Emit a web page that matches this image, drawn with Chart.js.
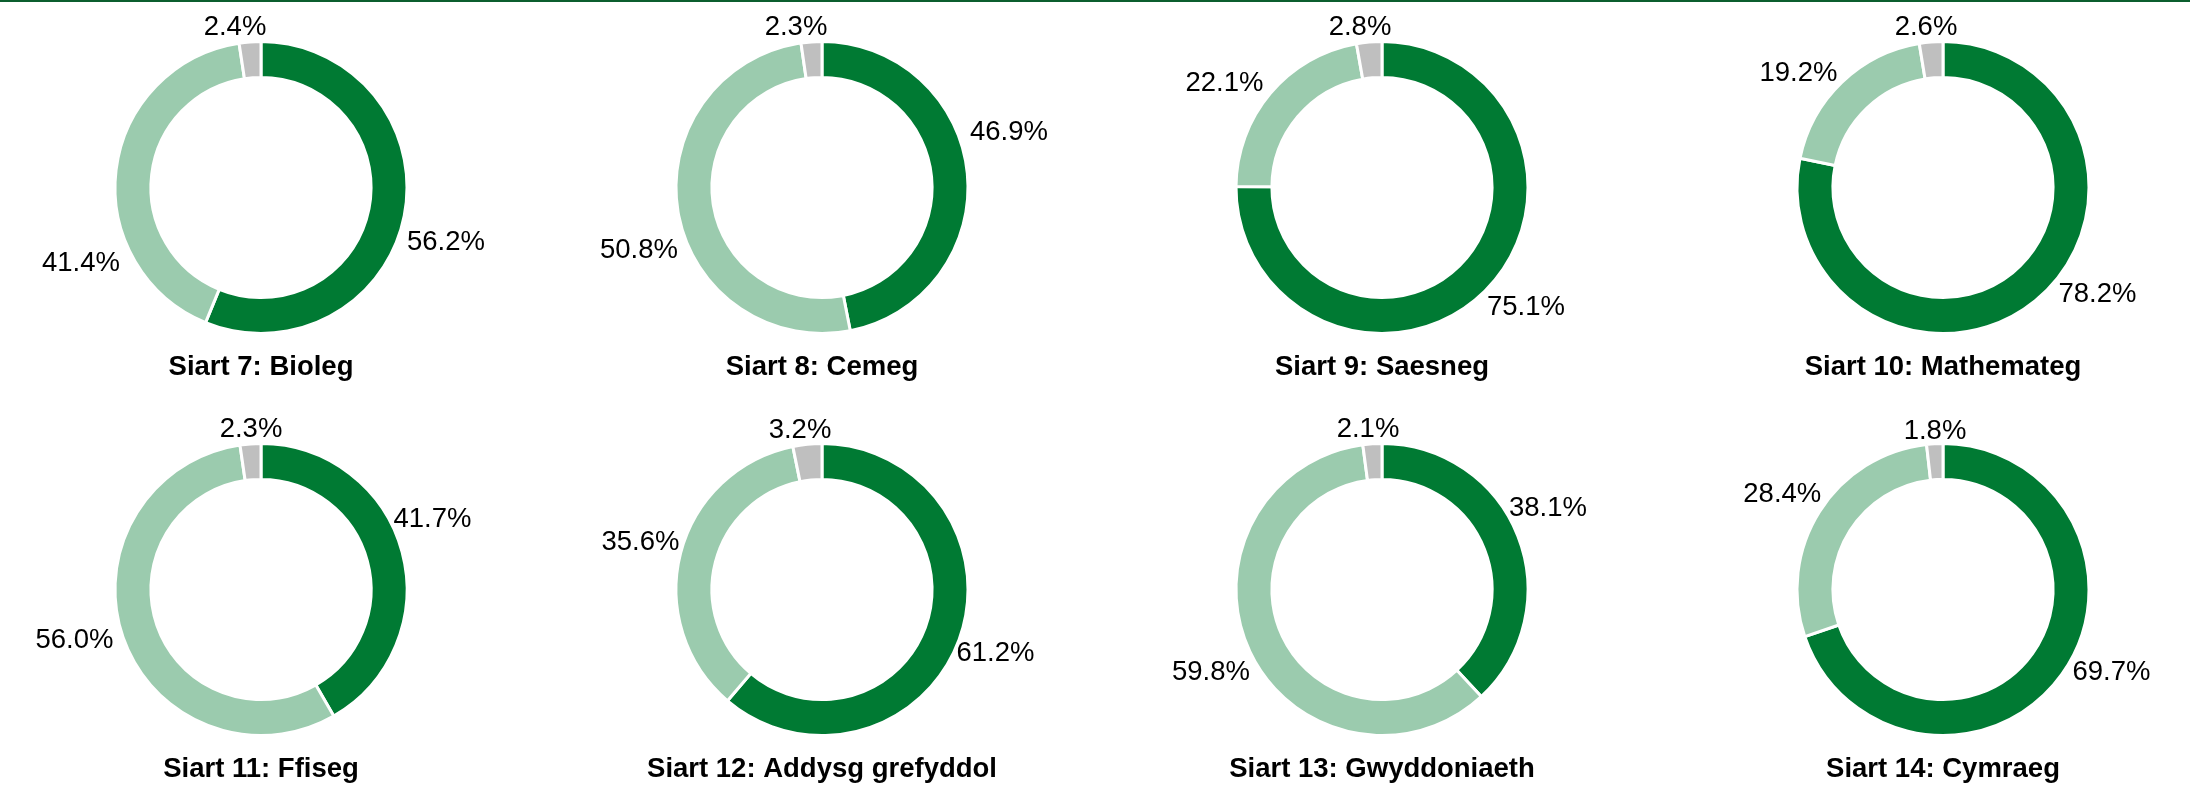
<!DOCTYPE html>
<html>
<head>
<meta charset="utf-8">
<script src="https://cdn.jsdelivr.net/npm/chart.js@4.4.1/dist/chart.umd.min.js"></script>
<style>
  html, body { margin: 0; padding: 0; background: #ffffff; }
  body { width: 2190px; height: 795px; position: relative; overflow: hidden; }
  #topline { position: absolute; left: 0; top: 0; width: 2190px; height: 2px; background: #0b5e2e; z-index: 5; }
  canvas { position: absolute; }
</style>
</head>
<body>
<div id="topline"></div>

<script>
// ---- DATA ----
const chartTitles = [
  'Siart 7: Bioleg', 'Siart 8: Cemeg', 'Siart 9: Saesneg', 'Siart 10: Mathemateg',
  'Siart 11: Ffiseg', 'Siart 12: Addysg grefyddol', 'Siart 13: Gwyddoniaeth', 'Siart 14: Cymraeg'
];
const segmentNames = ['Cyfran 1', 'Cyfran 2', 'Cyfran 3'];
const darkShare  = [56.2, 46.9, 75.1, 78.2, 41.7, 61.2, 38.1, 69.7];
const lightShare = [41.4, 50.8, 22.1, 19.2, 56.0, 35.6, 59.8, 28.4];
const greyShare  = [2.4, 2.3, 2.8, 2.6, 2.3, 3.2, 2.1, 1.8];

// ---- LAYOUT (label placement relative to ring centre, px: [dark, light, grey]) ----
const labelOffsets = [
  [[185, 52.5], [-180, 74], [-26, -162.5]],
  [[187, -57], [-183, 61], [-26, -162.5]],
  [[144, 117.5], [-157.5, -106], [-22, -162.5]],
  [[154.5, 104.5], [-144.5, -116.5], [-17, -162]],
  [[171.5, -72], [-186.5, 49], [-10, -162]],
  [[173.5, 62], [-181.5, -49.5], [-22, -161]],
  [[166, -83], [-171, 80.5], [-14, -162]],
  [[168.5, 81], [-160.7, -97], [-8, -160]]
];
const colCentres = [261, 822, 1382, 1943];
const rowCentres = [187.5, 589.5];

// ---- STYLE ----
const segColours = ['#007a33', '#9bcbae', '#bfbfbf'];
const FONT = "'Liberation Sans', Arial, sans-serif";
const CW = 520, CH = 430, PAD_BOTTOM = 49;
const OUTER_R = 146;

const labelPlugin = {
  id: 'ringLabels',
  afterDatasetsDraw(chart) {
    const ctx = chart.ctx;
    const idx = chart.options.plugins.ringLabels.index;
    const meta = chart.getDatasetMeta(0);
    const ds = chart.data.datasets[0];
    ctx.save();
    ctx.fillStyle = '#000000';
    ctx.textAlign = 'center';
    ctx.textBaseline = 'alphabetic';
    ctx.font = "27.5px " + FONT;
    let cx = 0, cy = 0;
    meta.data.forEach((arc, i) => {
      cx = arc.x; cy = arc.y;
      const off = labelOffsets[idx][i];
      ctx.fillText(ds.data[i].toFixed(1) + '%', arc.x + off[0], arc.y + off[1] + 27.5 * 0.358);
    });
    ctx.font = "bold 27.5px " + FONT;
    ctx.fillText(chartTitles[idx], cx, cy + 187.5);
    ctx.restore();
  }
};

for (let k = 0; k < chartTitles.length; k++) {
  const cv = document.createElement('canvas');
  cv.width = CW; cv.height = CH;
  cv.style.width = CW + 'px'; cv.style.height = CH + 'px';
  const cx = colCentres[k % 4], cy = rowCentres[Math.floor(k / 4)];
  cv.style.left = Math.round(cx - CW / 2) + 'px';
  cv.style.top = (cy - (CH - PAD_BOTTOM) / 2) + 'px';
  document.body.appendChild(cv);

  new Chart(cv.getContext('2d'), {
    type: 'doughnut',
    data: {
      labels: segmentNames,
      datasets: [{
        data: [darkShare[k], lightShare[k], greyShare[k]],
        backgroundColor: segColours,
        borderColor: '#ffffff',
        borderWidth: 3
      }]
    },
    options: {
      responsive: false,
      animation: false,
      devicePixelRatio: 1,
      radius: OUTER_R,
      cutout: '75.4%',
      layout: { padding: { top: 0, left: 0, right: 0, bottom: PAD_BOTTOM } },
      events: [],
      plugins: {
        legend: { display: false },
        tooltip: { enabled: false },
        title: { display: false },
        ringLabels: { index: k }
      }
    },
    plugins: [labelPlugin]
  });
}
</script>
</body>
</html>
